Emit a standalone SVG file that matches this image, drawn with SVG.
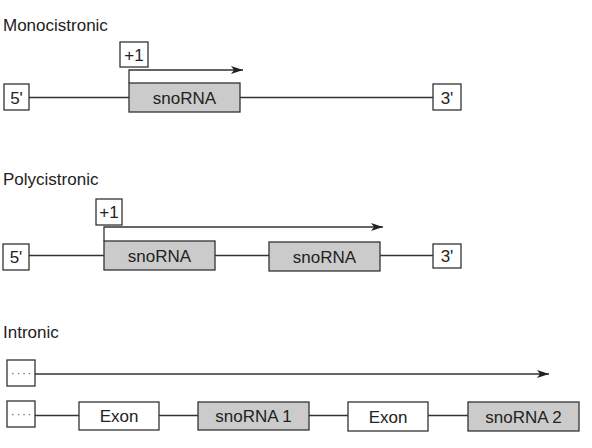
<svg xmlns="http://www.w3.org/2000/svg" width="592" height="448" viewBox="0 0 592 448">
<defs>
<style>
text{font-family:"Liberation Sans",Arial,sans-serif;font-size:17px;fill:#222}
.t{text-anchor:middle}
.w{fill:#fff;stroke:#333;stroke-width:1.3}
.g{fill:#cbcbcb;stroke:#333;stroke-width:1.3}
.l{stroke:#333;stroke-width:1.3;fill:none}
.dots{font-size:12px;fill:#666;letter-spacing:1.6px;text-anchor:middle}
</style>
<marker id="ah" viewBox="0 0 12 8" markerWidth="12" markerHeight="8" refX="12" refY="4" orient="auto" markerUnits="userSpaceOnUse">
<path d="M0,0 L12,4 L0,8 L3,4 z" fill="#222"/>
</marker>
</defs>
<rect width="592" height="448" fill="#fff"/>

<text x="3" y="31">Monocistronic</text>
<text x="3" y="185">Polycistronic</text>
<text x="3" y="338">Intronic</text>

<g id="connectors">
<line class="l" x1="29" y1="97.5" x2="129" y2="97.5"/>
<line class="l" x1="240" y1="97.5" x2="433" y2="97.5"/>
<polyline class="l" points="129,83 129,70 243,70" marker-end="url(#ah)"/>

<line class="l" x1="29" y1="255.5" x2="104" y2="255.5"/>
<line class="l" x1="215" y1="255.5" x2="269" y2="255.5"/>
<line class="l" x1="380" y1="255.5" x2="433" y2="255.5"/>
<polyline class="l" points="104,241 104,227 383,227" marker-end="url(#ah)"/>

<line class="l" x1="35" y1="374" x2="549" y2="374" marker-end="url(#ah)"/>
<line class="l" x1="35" y1="415.5" x2="79" y2="415.5"/>
<line class="l" x1="159" y1="415.5" x2="198" y2="415.5"/>
<line class="l" x1="309" y1="415.5" x2="348" y2="415.5"/>
<line class="l" x1="428" y1="415.5" x2="468" y2="415.5"/>
</g>

<g id="mono-plus1"><rect class="w" x="120" y="42" width="28" height="25"/><text class="t" x="134" y="60.5">+1</text></g>
<g id="mono-5"><rect class="w" x="4" y="84" width="25" height="26"/><text class="t" x="16.5" y="103.5">5'</text></g>
<g id="mono-sno"><rect class="g" x="129" y="83" width="111" height="29"/><text class="t" x="184.5" y="103.5">snoRNA</text></g>
<g id="mono-3"><rect class="w" x="433" y="84" width="28" height="26"/><text class="t" x="447" y="103.5">3'</text></g>

<g id="poly-plus1"><rect class="w" x="96" y="199" width="26" height="26"/><text class="t" x="109" y="218">+1</text></g>
<g id="poly-5"><rect class="w" x="3" y="244" width="26" height="26"/><text class="t" x="16" y="263">5'</text></g>
<g id="poly-sno1"><rect class="g" x="104" y="241" width="111" height="29"/><text class="t" x="159.5" y="261.5">snoRNA</text></g>
<g id="poly-sno2"><rect class="g" x="269" y="242" width="111" height="29"/><text class="t" x="324.5" y="262.5">snoRNA</text></g>
<g id="poly-3"><rect class="w" x="433" y="244" width="28" height="24"/><text class="t" x="447" y="262">3'</text></g>

<g id="intr-dots1"><rect class="w" x="7" y="360" width="28" height="26"/><text class="dots" x="22" y="377">····</text></g>
<g id="intr-dots2"><rect class="w" x="7" y="401" width="28" height="26"/><text class="dots" x="22" y="418">····</text></g>
<g id="intr-exon1"><rect class="w" x="79" y="402" width="80" height="28"/><text class="t" x="119" y="422">Exon</text></g>
<g id="intr-sno1"><rect class="g" x="198" y="402" width="111" height="28"/><text class="t" x="253.5" y="422">snoRNA 1</text></g>
<g id="intr-exon2"><rect class="w" x="348" y="402" width="80" height="29"/><text class="t" x="388" y="422.5">Exon</text></g>
<g id="intr-sno2"><rect class="g" x="468" y="402" width="111" height="29"/><text class="t" x="523.5" y="422.5">snoRNA 2</text></g>
</svg>
